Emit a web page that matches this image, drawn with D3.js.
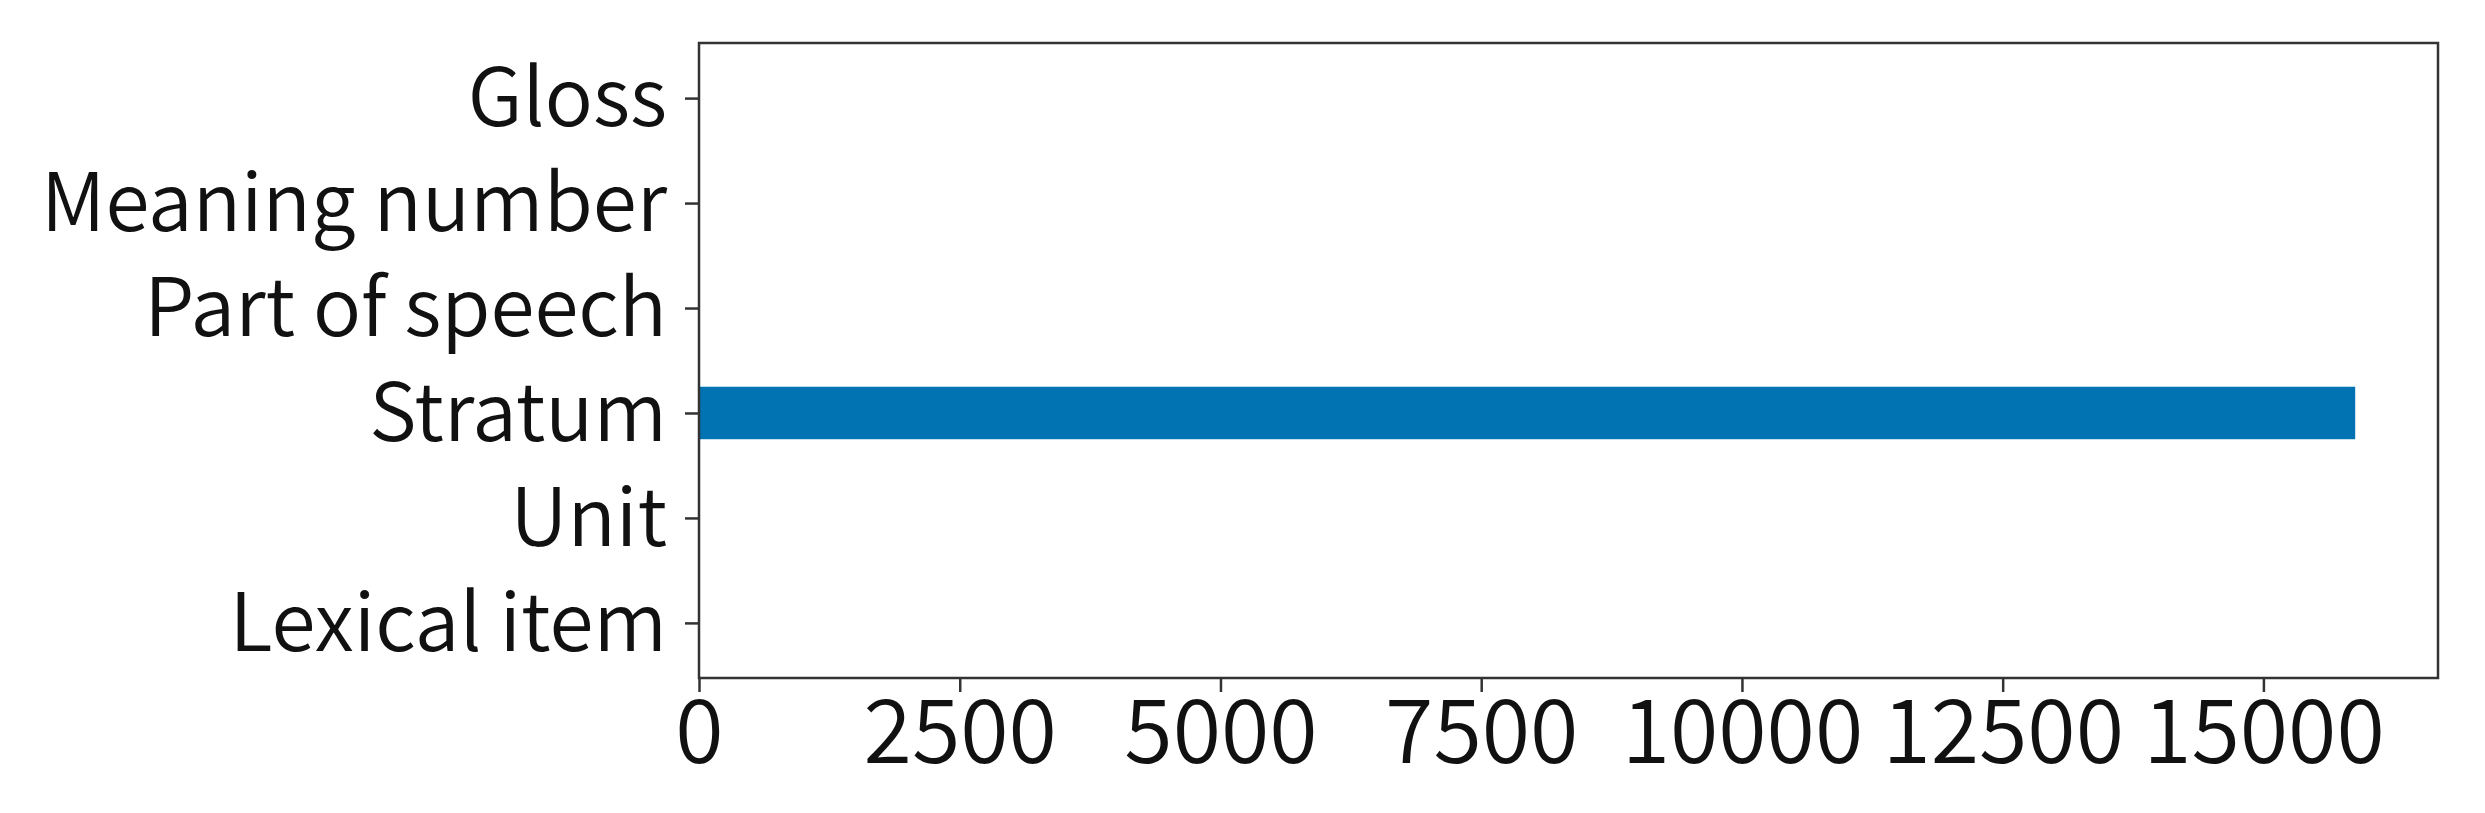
<!DOCTYPE html>
<html lang="en">
<head>
  <meta charset="UTF-8">
  <title>Stratum bar chart</title>
  <script src="https://cdn.jsdelivr.net/npm/d3@7"></script>
</head>
<body style="margin:0; background-color:#fff;">
<script>
  const categories = ["Lexical item", "Unit", "Stratum", "Part of speech", "Meaning number", "Gloss"];
  const counts = [0, 0, 15880, 0, 0, 0];
  const xTicks = [0, 2500, 5000, 7500, 10000, 12500, 15000];

  const width = 2485;
  const height = 813;
  const margin = {top: 43, right: 47, bottom: 135, left: 699};
  const innerW = width - margin.left - margin.right;
  const innerH = height - margin.top - margin.bottom;
  const fontFamily = "'Noto Sans CJK KR', 'Noto Sans', sans-serif";

  const svg = d3.select("body")
    .append("svg")
    .attr("width", width)
    .attr("height", height)
    .style("display", "block");

  const g = svg.append("g").attr("transform", `translate(${margin.left}, ${margin.top})`);

  // x: 5% margin past the largest bar, like matplotlib
  const xScale = d3.scaleLinear().domain([0, d3.max(counts) * 1.05]).range([0, innerW]);
  // y: bar centers at 0..5, bar height 0.5, 5% padding
  const yScale = d3.scaleLinear().domain([-0.525, categories.length - 1 + 0.525]).range([innerH, 0]);
  const barH = 0.5;

  g.selectAll("rect.bar")
    .data(counts)
    .enter()
    .append("rect")
    .attr("class", "bar")
    .attr("x", xScale(0))
    .attr("y", (d, i) => yScale(i + barH / 2))
    .attr("width", d => xScale(d) - xScale(0))
    .attr("height", yScale(0) - yScale(barH))
    .attr("fill", "#0173b2");

  const xAxis = g.append("g")
    .attr("transform", `translate(0, ${innerH})`)
    .call(d3.axisBottom(xScale).tickValues(xTicks).tickFormat(d3.format("d")).tickSize(14).tickPadding(9));

  const yAxis = g.append("g")
    .call(d3.axisLeft(yScale)
      .tickValues(d3.range(categories.length))
      .tickFormat(i => categories[i])
      .tickSize(14).tickPadding(18));

  [xAxis, yAxis].forEach(ax => {
    ax.select(".domain").remove();
    ax.selectAll(".tick line").attr("stroke", "#333").attr("stroke-width", 2.5);
    ax.selectAll(".tick text")
      .attr("fill", "#111")
      .style("font-family", fontFamily)
      .style("font-weight", 350);
  });
  yAxis.selectAll(".tick text").style("font-size", "80px").attr("dy", "0.34em");
  xAxis.selectAll(".tick text").style("font-size", "88px");

  // frame
  g.append("rect")
    .attr("x", 0)
    .attr("y", 0)
    .attr("width", innerW)
    .attr("height", innerH)
    .attr("fill", "none")
    .attr("stroke", "#333")
    .attr("stroke-width", 2.5);
</script>
</body>
</html>
